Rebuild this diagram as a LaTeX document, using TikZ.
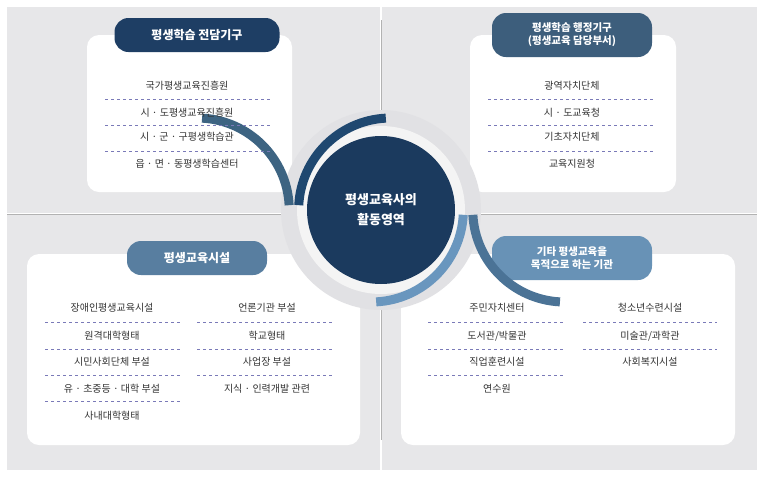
\documentclass[tikz,border=0pt]{standalone}
\usepackage{fontspec}
\setmainfont{Noto Sans CJK KR}
\begin{document}
\begin{tikzpicture}[x=1pt,y=-1pt,
  panel/.style={fill=white,rounded corners=12pt},
  pill/.style={rounded corners=14pt,text=white,font=\bfseries\fontsize{12}{15}\selectfont,align=center,inner sep=0pt},
  item/.style={font=\fontsize{10}{12}\selectfont,text=black!80},
  sep/.style={draw=blue!30!gray!80,dashed,line width=0.9pt}]
\useasboundingbox (0,0) rectangle (766,480);
\fill[blue!3!gray!18] (7,7) rectangle (757,470);
\draw[white,line width=1.5pt] (381,7) -- (381,470) (7,214) -- (757,214);
\draw[gray!60,line width=0.6pt] (381,20) -- (381,440) (7,214) -- (757,214);
\fill[panel] (87,35) rectangle (292,192);
\fill[panel] (470,35) rectangle (676,192);
\fill[panel] (27,254) rectangle (360,445);
\fill[panel] (401,254) rectangle (735,445);
\node[pill,fill={rgb,255:red,30;green,62;blue,100},minimum width=165pt,minimum height=34pt] (h1) at (197,35) {평생학습 전담기구};
\node[pill,fill={rgb,255:red,61;green,94;blue,124},minimum width=160pt,minimum height=44pt,font=\bfseries\fontsize{10.5}{13}\selectfont] (h2) at (572,35) {평생학습 행정기구\\(평생교육 담당부서)};
\node[pill,fill={rgb,255:red,88;green,126;blue,160},minimum width=140pt,minimum height=34pt] (h3) at (197,258) {평생교육시설};
\node[pill,fill={rgb,255:red,104;green,146;blue,182},minimum width=160pt,minimum height=44pt,font=\bfseries\fontsize{10.5}{13}\selectfont] (h4) at (572,258) {기타 평생교육을\\목적으로 하는 기관};
% center
\fill[blue!5!gray!22] (381,210) circle (100);
\fill[white!70!gray!30] (381,210) circle (84);
\foreach \a/\b/\c in {93/177/{rgb,255:red,31;green,72;blue,112},3/87/{rgb,255:red,61;green,100;blue,130},183/267/{rgb,255:red,75;green,115;blue,150},273/357/{rgb,255:red,105;green,150;blue,190}}
  \draw[line width=9pt,color=\c] (381,210) ++(\a:-92) arc[start angle=-\a+180, end angle=-\b+180, radius=-92];
\node[circle,fill={rgb,255:red,27;green,58;blue,94},minimum size=148pt,text=white,align=center,font=\bfseries\fontsize{13}{20}\selectfont] (c) at (381,210) {평생교육사의\\활동영역};
% TL
\foreach \t/\y [count=\i] in {국가평생교육진흥원/86,시 · 도평생교육진흥원/113,시 · 군 · 구평생학습관/137,읍 · 면 · 동평생학습센터/164}
  \node[item] (a\i) at (187,\y) {\t};
\foreach \y in {99,125,151} \draw[sep] (105,\y) -- (270,\y);
% TR
\foreach \t/\y [count=\i] in {광역자치단체/86,시 · 도교육청/113,기초자치단체/137,교육지원청/164}
  \node[item] (b\i) at (572,\y) {\t};
\foreach \y in {99,125,151} \draw[sep] (488,\y) -- (655,\y);
% BL
\foreach \t/\y [count=\i] in {장애인평생교육시설/308,원격대학형태/336,시민사회단체 부설/362,유 · 초중등 · 대학 부설/389,사내대학형태/416}
  \node[item] (c\i) at (112,\y) {\t};
\foreach \y in {322,349,375,401} \draw[sep] (45,\y) -- (180,\y);
\foreach \t/\y [count=\i] in {언론기관 부설/308,학교형태/336,사업장 부설/362,지식 · 인력개발 관련/389}
  \node[item] (d\i) at (267,\y) {\t};
\foreach \y in {322,349,375} \draw[sep] (197,\y) -- (333,\y);
% BR
\foreach \t/\y [count=\i] in {주민자치센터/308,{도서관/박물관}/336,직업훈련시설/362,연수원/389}
  \node[item] (e\i) at (497,\y) {\t};
\foreach \y in {322,349,375} \draw[sep] (428,\y) -- (565,\y);
\foreach \t/\y [count=\i] in {청소년수련시설/308,{미술관/과학관}/336,사회복지시설/362}
  \node[item] (f\i) at (650,\y) {\t};
\foreach \y in {322,349} \draw[sep] (583,\y) -- (717,\y);
\end{tikzpicture}
\end{document}
